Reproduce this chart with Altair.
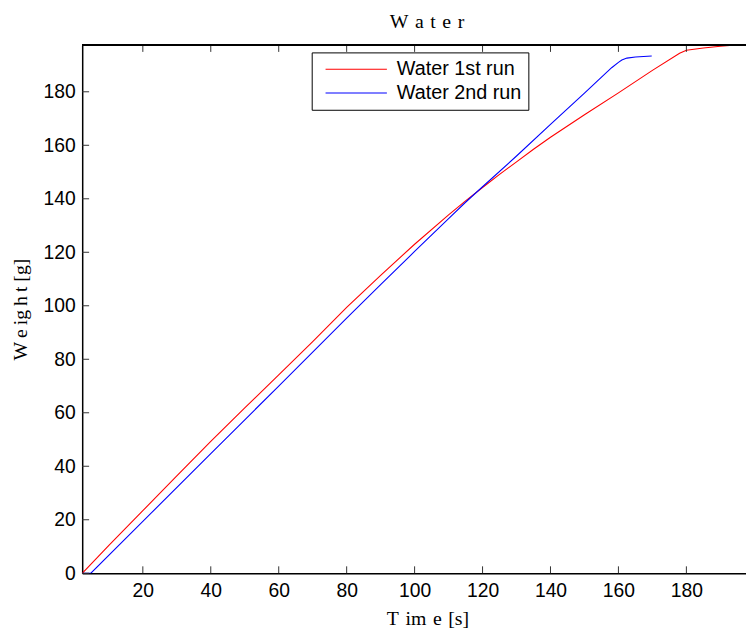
import altair as alt
import pandas as pd

# ---- data ----
run1_t = [2.15, 10, 20, 30, 40, 50, 60, 70, 80, 90, 100, 110, 115, 120, 125, 130, 135,
          140, 150, 160, 170, 178, 180, 185, 190, 194.6, 205]
run1_w = [0.0, 10.4, 23.4, 36.4, 49.3, 61.8, 74.2, 86.6, 99.4, 111.4, 123.0, 134.0,
          139.2, 144.2, 149.1, 153.8, 158.5, 163.0, 171.4, 179.6, 188.0, 194.4,
          195.5, 196.4, 197.0, 197.5, 197.5]

run2_t = [2.15, 4.7, 20, 40, 60, 80, 90, 100, 110, 115, 120, 130, 140, 150, 158,
          160, 161, 162.5, 165, 169.8]
run2_w = [0.0, 0.0, 19.4, 44.7, 70.0, 95.4, 107.9, 120.3, 132.6, 138.7, 144.5, 156.0,
          167.8, 179.5, 189.0, 191.0, 191.9, 192.6, 193.0, 193.4]

series_names = ["Water 1st run", "Water 2nd run"]
series_colors = ["#ff0000", "#0000ff"]

x_ticks = [20, 40, 60, 80, 100, 120, 140, 160, 180]
y_ticks = [0, 20, 40, 60, 80, 100, 120, 140, 160, 180]
x_domain = [2.15, 197.55]
y_domain = [0, 197.5]

# ---- tables ----
df = pd.concat([
    pd.DataFrame({"t": run1_t, "w": run1_w, "run": series_names[0]}),
    pd.DataFrame({"t": run2_t, "w": run2_w, "run": series_names[1]}),
], ignore_index=True)
df_xt = pd.DataFrame({"t": x_ticks})
df_yt = pd.DataFrame({"w": y_ticks})

W, H = 671, 534
sans = "Liberation Sans"
serif = "Liberation Serif"
wide = "\u2004"   # three-per-em space
thin = "\u2009"   # thin space

xscale = alt.Scale(domain=x_domain, nice=False, zero=False)
yscale = alt.Scale(domain=y_domain, nice=False, zero=False)

lines = alt.Chart(df).mark_line(strokeWidth=1.1, clip=True).encode(
    x=alt.X("t:Q", scale=xscale,
            axis=alt.Axis(values=x_ticks, ticks=False, grid=False,
                          labelFont=sans, labelFontSize=19.5, labelColor="black",
                          labelPadding=9, domainColor="black", domainWidth=1.5,
                          title=f"T{wide}im{wide}e{wide}[s]", titleFont=serif,
                          titleFontSize=20, titleFontWeight="normal",
                          titleColor="black", titleX=349, titleY=36,
                          titleBaseline="top")),
    y=alt.Y("w:Q", scale=yscale,
            axis=alt.Axis(values=y_ticks, ticks=False, grid=False,
                          labelFont=sans, labelFontSize=19.5, labelColor="black",
                          labelPadding=7, domainColor="black", domainWidth=1.5,
                          title=f"W{thin}e{thin}ig{thin}h{thin}t [g]", titleFont=serif,
                          titleFontSize=20, titleFontWeight="normal",
                          titleColor="black", titleX=-52, titleY=267,
                          titleBaseline="bottom", titleAngle=-90)),
    color=alt.Color("run:N",
                    scale=alt.Scale(domain=series_names, range=series_colors),
                    legend=alt.Legend(title=None, orient="none", legendX=232,
                                      legendY=7.5, symbolType="M0,0H12.4",
                                      symbolSize=100, symbolStrokeWidth=1.1,
                                      symbolOffset=-3,
                                      labelFont=sans, labelFontSize=20,
                                      labelColor="black", labelOffset=62,
                                      padding=7, strokeColor="black",
                                      fillColor="white", rowPadding=4)),
)

tick_bottom = alt.Chart(df_xt).mark_rule(color="#333333", strokeWidth=1).encode(
    x=alt.X("t:Q", scale=xscale), y=alt.value(H), y2=alt.value(H - 7))
tick_top = alt.Chart(df_xt).mark_rule(color="#333333", strokeWidth=1).encode(
    x=alt.X("t:Q", scale=xscale), y=alt.value(0), y2=alt.value(7))
tick_left = alt.Chart(df_yt).mark_rule(color="#333333", strokeWidth=1).encode(
    y=alt.Y("w:Q", scale=yscale), x=alt.value(0), x2=alt.value(7))
top_border = alt.Chart(df_xt).mark_rule(color="black", strokeWidth=1.5).encode(
    x=alt.value(0), x2=alt.value(W + 2), y=alt.value(0))

chart = alt.layer(lines, tick_bottom, tick_top, tick_left, top_border).properties(
    width=W, height=H,
    title=alt.TitleParams(f"W{wide}a{wide}t{wide}e{wide}r", font=serif, fontSize=20,
                          fontWeight="normal", color="black", anchor="middle",
                          dx=13, offset=12),
    autosize=alt.AutoSizeParams(type="none"),
    padding={"left": 75, "top": 34, "right": 0, "bottom": 56},
).configure_view(stroke=None).configure(background="white")

chart.save("out.html", embed_options={"renderer": "svg", "actions": False})
